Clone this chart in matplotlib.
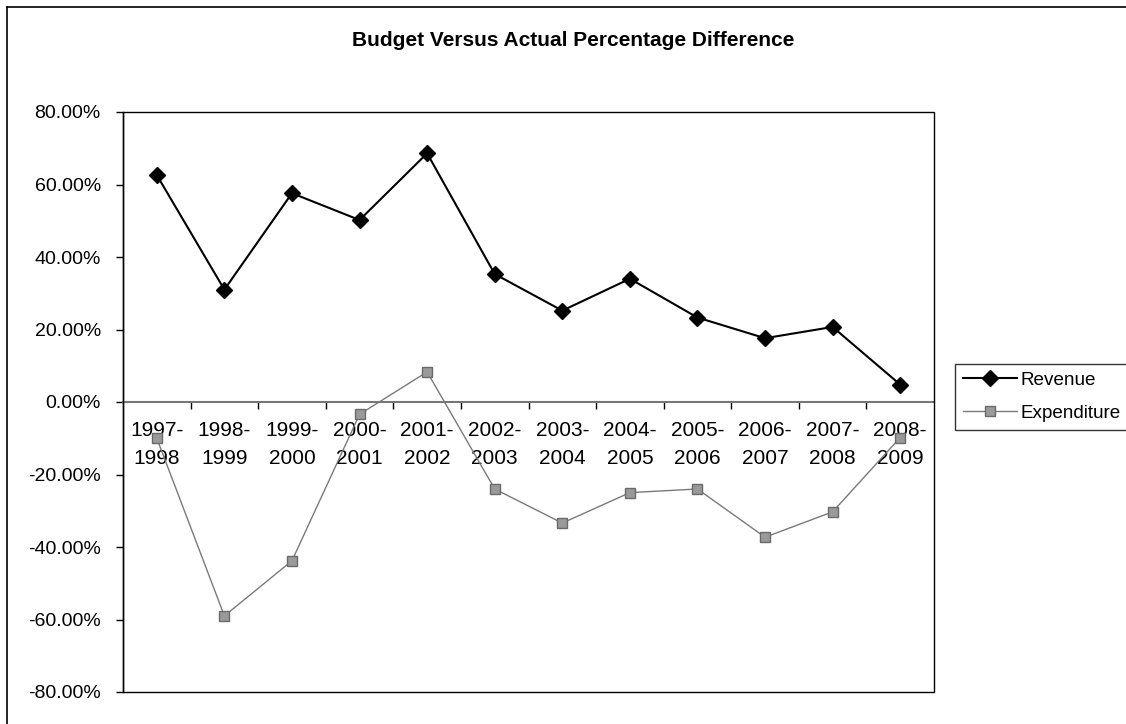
import matplotlib
matplotlib.use("Agg")
import matplotlib.pyplot as plt
from matplotlib.ticker import FuncFormatter, FixedLocator
from matplotlib.patches import Rectangle
from matplotlib.lines import Line2D

plt.rcParams['font.family'] = ['Liberation Sans', 'DejaVu Sans']

categories = ["1997-\n1998", "1998-\n1999", "1999-\n2000", "2000-\n2001", "2001-\n2002",
              "2002-\n2003", "2003-\n2004", "2004-\n2005", "2005-\n2006", "2006-\n2007",
              "2007-\n2008", "2008-\n2009"]
revenue = [62.6, 31.0, 57.6, 50.2, 68.6, 35.3, 25.2, 34.0, 23.3, 17.6, 20.7, 4.8]
expenditure = [-10.0, -59.0, -43.8, -3.4, 8.3, -24.0, -33.4, -25.0, -24.0, -37.3, -30.3, -9.8]
yticks = [-80, -60, -40, -20, 0, 20, 40, 60, 80]
title = "Budget Versus Actual Percentage Difference"

fig = plt.figure(figsize=(11.26, 7.24), dpi=100)
ax = fig.add_axes([123/1126, 1-692/724, (934-123)/1126, (692-112)/724])

x = list(range(len(categories)))
ax.plot(x, revenue, color='black', lw=1.5, marker='D', markersize=8,
        markerfacecolor='black', markeredgecolor='black', label='Revenue', zorder=4)
ax.plot(x, expenditure, color='#7a7a7a', lw=1.0, marker='s', markersize=7,
        markerfacecolor='#9a9a9a', markeredgecolor='#6a6a6a', label='Expenditure', zorder=3)

ax.set_xlim(-0.5, len(categories) - 0.5)
ax.set_ylim(-80, 80)
ax.set_yticks(yticks)
ax.yaxis.set_major_formatter(FuncFormatter(lambda v, p: f"{v:.2f}%"))
ax.tick_params(axis='y', direction='out', length=5, width=1, labelsize=14, pad=11)

# category axis at zero
ax.spines['bottom'].set_position(('data', 0))
ax.spines['bottom'].set_color('#777777')
ax.spines['bottom'].set_linewidth(1.5)
ax.spines['top'].set_visible(False)
ax.spines['right'].set_visible(False)
ax.spines['left'].set_linewidth(1.0)
ax.set_xticks(x)
ax.set_xticklabels(categories, fontsize=15, linespacing=1.6)
ax.tick_params(axis='x', which='major', length=0, pad=14)
ax.xaxis.set_minor_locator(FixedLocator([i + 0.5 for i in range(len(categories) - 1)]))
ax.tick_params(axis='x', which='minor', direction='out', length=5, width=1, color='black')

# plot area border
ax.add_patch(Rectangle((0, 0), 1, 1, transform=ax.transAxes, fill=False,
                       edgecolor='black', lw=1.0, clip_on=False, zorder=5))

leg = ax.legend(loc='upper left', bbox_to_anchor=(955/1126, 1-364/724),
                bbox_transform=fig.transFigure, borderaxespad=0, fontsize=13.6,
                frameon=True, fancybox=False, handlelength=2.9, handletextpad=0.15,
                labelspacing=0.85, borderpad=0.4)
leg.get_frame().set_edgecolor('black')
leg.get_frame().set_linewidth(1.0)

fig.text(573/1126, 1-40/724, title, ha='center', va='center',
         fontsize=15, fontweight='bold')

# outer chart border (left and top visible)
fig.add_artist(Line2D([7/1126, 7/1126], [0, 1-7/724], transform=fig.transFigure,
                      color='black', lw=1.2))
fig.add_artist(Line2D([7/1126, 1], [1-7/724, 1-7/724], transform=fig.transFigure,
                      color='black', lw=1.2))

fig.savefig("out.png", dpi=100)
